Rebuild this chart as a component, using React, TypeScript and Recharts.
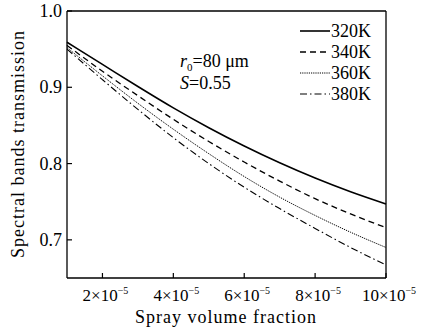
import React from "react";
import { LineChart, Line, XAxis, YAxis, ReferenceLine } from "recharts";

// spray volume fraction (x 1e-5)
const fractions = [1, 2, 3, 4, 5, 6, 7, 8, 9, 10];

const t320 = [0.959, 0.93, 0.901, 0.873, 0.847, 0.823, 0.801, 0.781, 0.763, 0.747];
const t340 = [0.955, 0.921, 0.889, 0.858, 0.829, 0.802, 0.777, 0.754, 0.734, 0.716];
const t360 = [0.952, 0.915, 0.879, 0.845, 0.813, 0.783, 0.756, 0.732, 0.71, 0.69];
const t380 = [0.95, 0.91, 0.871, 0.834, 0.8, 0.769, 0.741, 0.715, 0.69, 0.667];

const xTicks = [2, 4, 6, 8, 10];
const yTicks = [0.7, 0.8, 0.9, 1.0];

const series = [
  { key: "t320", name: "320K", dash: undefined, width: 1.6 },
  { key: "t340", name: "340K", dash: "6 4", width: 1.3 },
  { key: "t360", name: "360K", dash: "1.2 1", width: 1 },
  { key: "t380", name: "380K", dash: "7 3 1.5 3", width: 1.1 },
];

const data = fractions.map((x, i) => ({
  x,
  t320: t320[i],
  t340: t340[i],
  t360: t360[i],
  t380: t380[i],
}));

const FONT = "'Liberation Serif', 'Times New Roman', serif";
const txt = { fontFamily: FONT };

function XTick({ x, y, payload }: any) {
  const axisY = y - 8;
  return (
    <g>
      <line x1={x} x2={x} y1={axisY} y2={axisY - 5} stroke="#000" strokeWidth={1.2} />
      <text x={x + 3} y={axisY + 23} textAnchor="middle" style={txt} fontSize={17} fill="#000">
        {payload.value}×10
        <tspan fontSize={10} dy={-7}>−5</tspan>
      </text>
    </g>
  );
}

function YTick({ x, y, payload }: any) {
  const axisX = x + 6;
  return (
    <g>
      <line x1={axisX} x2={axisX + 5} y1={y} y2={y} stroke="#000" strokeWidth={1.2} />
      <text x={axisX - 5} y={y + 6} textAnchor="end" style={txt} fontSize={18} fill="#000">
        {payload.value.toFixed(1)}
      </text>
    </g>
  );
}

export default function App() {
  return (
    <div style={{ position: "absolute", left: 0, top: 0, background: "#fff" }}>
      <LineChart
        width={425}
        height={329}
        data={data}
        margin={{ top: 11, right: 39, bottom: 0, left: 0 }}
        style={txt}
      >
        <XAxis
          dataKey="x"
          type="number"
          domain={[1, 10]}
          ticks={xTicks}
          tick={<XTick />}
          tickLine={false}
          tickSize={0}
          tickMargin={8}
          height={51}
          axisLine={{ stroke: "#000", strokeWidth: 1.3 }}
          interval={0}
        />
        <YAxis
          type="number"
          domain={[0.65, 1.0]}
          ticks={yTicks}
          tick={<YTick />}
          tickLine={false}
          tickSize={0}
          tickMargin={6}
          width={67}
          axisLine={{ stroke: "#000", strokeWidth: 1.3 }}
          interval={0}
        />
        <ReferenceLine y={1.0} stroke="#000" strokeWidth={1.3} />
        <ReferenceLine x={10} stroke="#000" strokeWidth={1.3} />
        {series.map((s) => (
          <Line
            key={s.key}
            dataKey={s.key}
            name={s.name}
            type="monotone"
            stroke="#000"
            strokeWidth={s.width}
            strokeDasharray={s.dash}
            dot={false}
            isAnimationActive={false}
          />
        ))}
        <g>
          {series.map((s, i) => (
            <g key={s.key}>
              <line
                x1={300}
                x2={330}
                y1={31 + i * 21}
                y2={31 + i * 21}
                stroke="#000"
                strokeWidth={s.width}
                strokeDasharray={s.dash}
              />
              <text x={331} y={37 + i * 21} style={txt} fontSize={18} fill="#000">
                {s.name}
              </text>
            </g>
          ))}
        </g>
        <text x={180} y={67} style={txt} fontSize={18} fill="#000">
          <tspan fontStyle="italic">r</tspan>
          <tspan fontSize={11} dy={4}>0</tspan>
          <tspan dy={-4}>=80 μm</tspan>
        </text>
        <text x={180} y={89} style={txt} fontSize={18} fill="#000">
          <tspan fontStyle="italic">S</tspan>=0.55
        </text>
        <text
          x={226}
          y={323}
          textAnchor="middle"
          style={txt}
          fontSize={18}
          letterSpacing={1}
          fill="#000"
        >
          Spray volume fraction
        </text>
        <text
          x={24}
          y={144}
          textAnchor="middle"
          style={txt}
          fontSize={18}
          letterSpacing={1}
          fill="#000"
          transform="rotate(-90 24 144)"
        >
          Spectral bands transmission
        </text>
      </LineChart>
    </div>
  );
}
